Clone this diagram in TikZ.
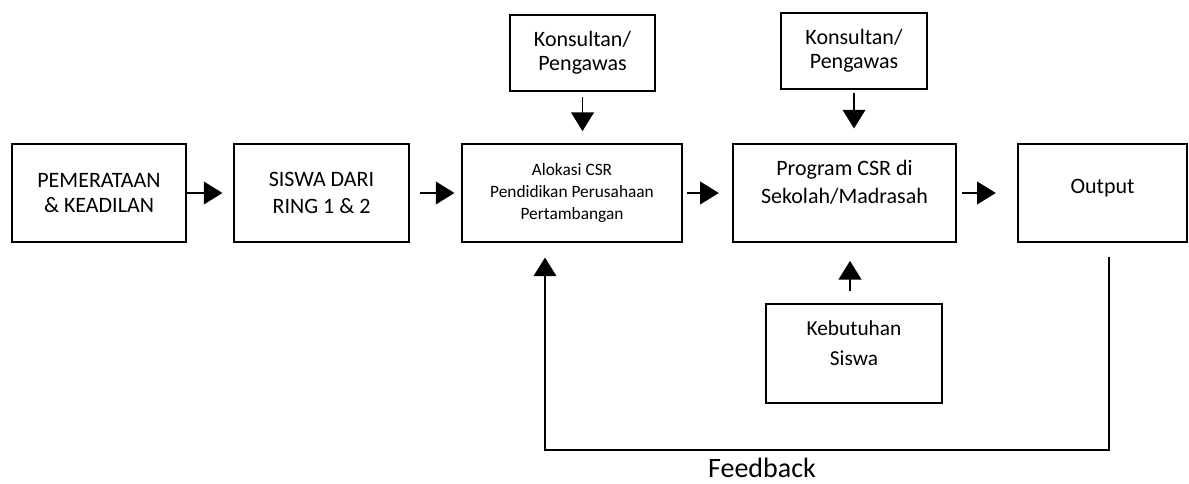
\documentclass[tikz,border=0pt]{standalone}
\usepackage{fontspec}
\setmainfont{Carlito}
\usetikzlibrary{arrows.meta}

\begin{document}
\begin{tikzpicture}[x=0.75pt,y=-0.75pt,
        box/.style={draw,line width=1.3pt,align=center,inner sep=0pt,minimum height=73.5pt,font=\fontsize{16.5}{19}\selectfont},
        arr/.style={line width=1.3pt,-{Triangle[length=14pt,width=17pt]}}]
        \useasboundingbox (0,0) rectangle (1189,484);

        % main row
        \node[box,minimum width=130.5pt] (pem) at (99,193) {PEMERATAAN\\\& KEADILAN};
        \node[box,minimum width=131.25pt,font=\fontsize{16.5}{20}\selectfont] (siswa) at (321.5,193) {SISWA DARI\\RING 1 \& 2};
        \node[box,minimum width=165pt,font=\fontsize{13}{16.5}\selectfont] (alok) at (572,193) {Alokasi CSR\\Pendidikan Perusahaan\\Pertambangan};
        \node[box,minimum width=167.25pt,text depth=16pt,font=\fontsize{16.5}{21}\selectfont] (prog) at (844.5,193) {Program CSR di\\Sekolah/Madrasah};
        \node[box,minimum width=126.75pt,text depth=10pt] (out) at (1102.5,193) {Output};

        % top and bottom boxes
        \node[box,minimum width=108.75pt,minimum height=57pt,font=\fontsize{16.5}{18}\selectfont] (kons1) at (582.5,53) {Konsultan/\\Pengawas};
        \node[box,minimum width=109.5pt,minimum height=57pt,font=\fontsize{16.5}{18}\selectfont] (kons2) at (854,51) {Konsultan/\\Pengawas};
        \node[box,minimum width=132pt,minimum height=74.25pt,text depth=15pt,font=\fontsize{16}{22.5}\selectfont] (butuh) at (854,353.5) {Kebutuhan\\Siswa};

        \draw[arr,shorten >=8pt] (pem) -- (siswa);
        \draw[arr,shorten <=7.5pt,shorten >=5pt] (siswa) -- (alok);
        \draw[arr,shorten <=3pt,shorten >=10pt] (alok) -- (prog);
        \draw[arr,shorten <=4pt,shorten >=16pt] (prog) -- (out);

        \draw[arr,shorten <=4pt,shorten >=9pt] (kons1) -- (kons1 |- alok.north);
        \draw[arr,shorten <=2pt,shorten >=11pt] (kons2) -- (kons2 |- prog.north);
        \draw[arr,shorten <=9pt,shorten >=13.5pt] ([xshift=-3pt]butuh.north) -- ([xshift=-3pt]butuh.north |- prog.south);

        % feedback loop
        \coordinate (fbR) at (1109,450);
        \coordinate (fbL) at (545,450);
        \draw[arr,shorten <=10.5pt,shorten >=11pt] (out.south -| fbR) -- (fbR) -- (fbL) -- (fbL |- alok.south);
        \node[font=\fontsize{21}{24}\selectfont,inner sep=1pt] (fb) at (762,468) {Feedback};
\end{tikzpicture}
\end{document}
